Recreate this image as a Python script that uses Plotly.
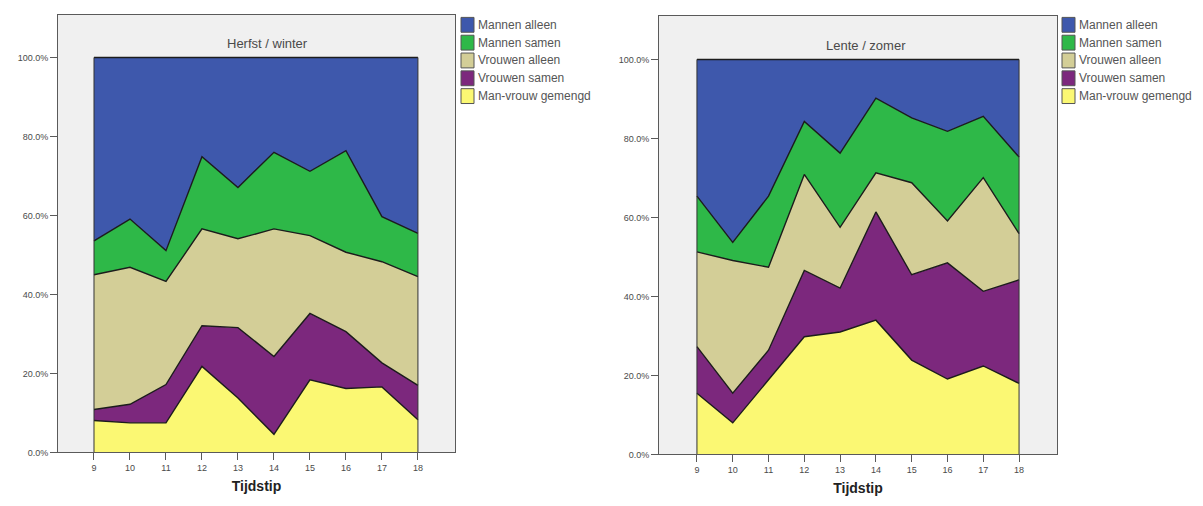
import plotly.graph_objects as go

# ---------------- data ----------------
hours = [9, 10, 11, 12, 13, 14, 15, 16, 17, 18]
series_names = ["Mannen alleen", "Mannen samen", "Vrouwen alleen", "Vrouwen samen", "Man-vrouw gemengd"]
series_colors = ["#3E58AC", "#2EB848", "#D3CE97", "#7C287D", "#FBF873"]

panel_titles = ["Herfst / winter", "Lente / zomer"]

# Herfst / winter (percent of observations per hour)
hw_mannen_alleen = [46.4, 40.9, 48.9, 25.1, 32.9, 24.0, 28.8, 23.6, 40.3, 44.5]
hw_mannen_samen = [8.6, 12.2, 7.8, 18.3, 13.0, 19.4, 16.3, 25.7, 11.4, 11.0]
hw_vrouwen_alleen = [34.1, 34.7, 26.1, 24.5, 22.5, 32.3, 19.7, 20.1, 25.6, 27.5]
hw_vrouwen_samen = [2.8, 4.7, 9.7, 10.3, 17.8, 19.7, 16.8, 14.4, 6.1, 8.7]
hw_gemengd = [8.1, 7.5, 7.5, 21.8, 13.8, 4.6, 18.4, 16.2, 16.6, 8.3]

# Lente / zomer
lz_mannen_alleen = [34.6, 46.3, 34.6, 15.7, 23.7, 9.8, 14.8, 18.2, 14.4, 24.7]
lz_mannen_samen = [14.1, 4.6, 18.0, 13.4, 18.8, 18.9, 16.4, 22.7, 15.5, 19.4]
lz_vrouwen_alleen = [24.0, 33.6, 21.0, 24.3, 15.4, 9.9, 23.3, 10.6, 28.8, 11.7]
lz_vrouwen_samen = [11.8, 7.5, 7.5, 16.8, 11.1, 27.4, 21.6, 29.4, 18.9, 26.2]
lz_gemengd = [15.5, 8.0, 18.9, 29.8, 31.0, 34.0, 23.9, 19.1, 22.4, 18.0]

y_tickvals = [0, 20, 40, 60, 80, 100]
y_ticktext = ["0.0%", "20.0%", "40.0%", "60.0%", "80.0%", "100.0%"]
x_title = "Tijdstip"

# ---------------- figure ----------------
# the page body adds an 8 px margin, so the figure is drawn 8 px smaller
# and every page-pixel position below is shifted by that margin
OFF = 8
W, H = 1203 - OFF, 506 - OFF
FONT = "Liberation Sans, Arial, sans-serif"


def px(x):
    return (x - OFF) / W


def py(y):
    return 1 - (y - OFF) / H


panels = [
    [hw_mannen_alleen, hw_mannen_samen, hw_vrouwen_alleen, hw_vrouwen_samen, hw_gemengd],
    [lz_mannen_alleen, lz_mannen_samen, lz_vrouwen_alleen, lz_vrouwen_samen, lz_gemengd],
]

# page-pixel geometry of each panel: (left, right, top, bottom, y-pixel of 100%)
geom = [(58, 455, 15, 457, 58), (659, 1057, 16, 459, 60)]
xranges = [[8.0, 19.03], [7.94, 19.06]]
title_px = [(267, 44), (866, 46)]
legend_px = [(461, 476), (1062, 1077)]

fig = go.Figure()

for p, data in enumerate(panels):
    xa = "x" if p == 0 else "x2"
    ya = "y" if p == 0 else "y2"
    # stack from bottom (gemengd) up to Mannen alleen
    for i in reversed(range(len(series_names))):
        fig.add_trace(go.Scatter(
            x=hours, y=data[i], name=series_names[i],
            mode="lines", stackgroup=f"s{p}",
            line=dict(color="#1c1c1c", width=1.4),
            fillcolor=series_colors[i],
            xaxis=xa, yaxis=ya, showlegend=False,
            hoverinfo="x+y+name",
        ))
    # outline the left and right edges of the stacked area
    total_first = sum(s[0] for s in data)
    total_last = sum(s[-1] for s in data)
    for xv, tot in ((hours[0], total_first), (hours[-1], total_last)):
        fig.add_trace(go.Scatter(
            x=[xv, xv], y=[0, tot], mode="lines",
            line=dict(color="#333", width=1), xaxis=xa, yaxis=ya,
            showlegend=False, hoverinfo="skip",
        ))

axis_common = dict(
    showgrid=False, zeroline=False, showline=True, linecolor="#5a5a5a",
    linewidth=1, mirror=True, ticks="outside", ticklen=7, tickcolor="#5a5a5a",
    tickfont=dict(family=FONT, size=9, color="#4a4a4a"),
)

layout = dict(
    width=W, height=H, margin=dict(l=0, r=0, t=0, b=0),
    paper_bgcolor="white", plot_bgcolor="#F0F0F0",
    font=dict(family=FONT, color="#333"),
    showlegend=False,
)

for p in range(2):
    l, r, t, b, top100 = geom[p]
    xkey = "xaxis" if p == 0 else "xaxis2"
    ykey = "yaxis" if p == 0 else "yaxis2"
    xanchor = "y" if p == 0 else "y2"
    yanchor = "x" if p == 0 else "x2"
    layout[xkey] = dict(
        axis_common, domain=[px(l), px(r)], range=xranges[p],
        tickvals=hours, ticktext=[str(h) for h in hours], anchor=xanchor,
        title=dict(text=f"<b>{x_title}</b>", standoff=8,
                   font=dict(family=FONT, size=14, color="#222")),
    )
    layout[ykey] = dict(
        axis_common, domain=[py(b), py(t)],
        range=[0, 100 * (b - t) / (b - top100)],
        tickvals=y_tickvals, ticktext=y_ticktext, anchor=yanchor,
    )

fig.update_layout(**layout)

annotations = []
shapes = []
for p in range(2):
    tx, ty = title_px[p]
    annotations.append(dict(
        text=panel_titles[p], x=px(tx), y=py(ty), xref="paper", yref="paper",
        showarrow=False, xanchor="center", yanchor="middle",
        font=dict(family=FONT, size=13, color="#4a4a4a"),
    ))
    sx, txx = legend_px[p]
    for k, name in enumerate(series_names):
        cy = 25 + 18 * k
        shapes.append(dict(
            type="rect", xref="paper", yref="paper",
            x0=px(sx), x1=px(sx + 13), y0=py(cy + 7.5), y1=py(cy - 7.5),
            fillcolor=series_colors[k], line=dict(color="#555", width=1),
        ))
        annotations.append(dict(
            text=name, x=px(txx), y=py(cy), xref="paper", yref="paper",
            showarrow=False, xanchor="left", yanchor="middle",
            font=dict(family=FONT, size=12, color="#555"),
        ))

fig.update_layout(annotations=annotations, shapes=shapes)
fig.write_html("out.html")
